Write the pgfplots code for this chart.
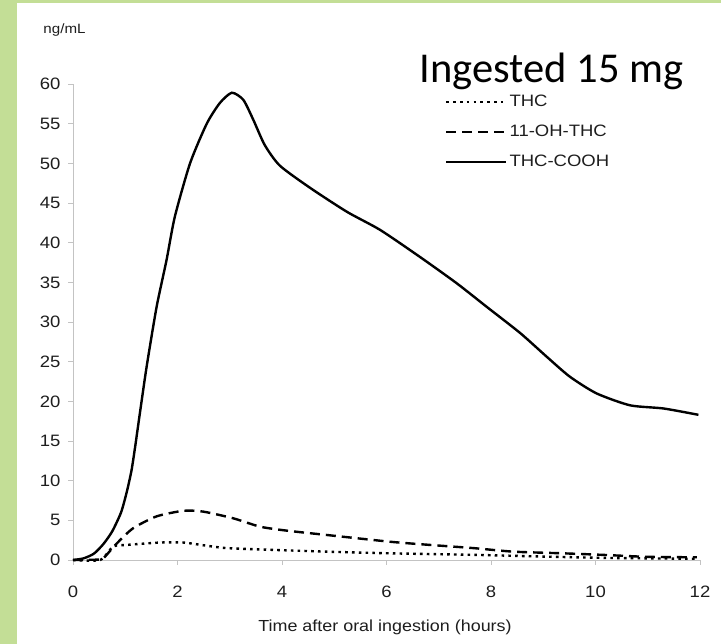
\documentclass[border=0pt]{standalone}
\usepackage{pgfplots}
\pgfplotsset{compat=1.18}
\usepackage{fontspec}
\setmainfont{Liberation Sans}[FakeStretch=1.12]
\newfontfamily\calibri{Carlito}
\definecolor{framegreen}{RGB}{195,222,150}
\definecolor{axisgray}{RGB}{195,195,195}
\definecolor{labelink}{RGB}{30,30,30}

% concentration (ng/mL) against time (h)
\pgfplotstableread{
t v
0.00 0.00
0.20 0.20
0.40 0.80
0.58 2.00
0.75 3.60
0.92 6.00
1.03 8.60
1.12 11.3
1.19 14.3
1.28 18.5
1.41 24.4
1.60 31.9
1.79 37.8
1.95 43.3
2.24 50.0
2.56 55.0
2.81 57.6
3.04 58.9
3.26 58.0
3.45 55.5
3.67 52.3
3.96 49.7
4.54 46.9
5.24 43.9
5.88 41.6
6.64 38.2
7.34 34.9
7.92 31.9
8.56 28.6
9.07 25.6
9.51 23.1
10.02 21.0
10.66 19.5
11.30 19.1
11.97 18.3
}\cooh

\pgfplotstableread{
t v
0.00 0.00
0.50 0.05
0.58 0.20
0.84 2.10
1.15 4.00
1.60 5.50
2.11 6.20
2.49 6.10
3.07 5.25
3.58 4.20
4.09 3.70
4.86 3.15
6.07 2.30
6.83 1.90
7.66 1.50
8.43 1.05
9.38 0.84
10.20 0.63
10.98 0.40
11.94 0.34
}\ohthc

\pgfplotstableread{
t v
0.00 0.00
0.52 0.00
0.77 1.70
1.03 1.90
1.67 2.20
2.11 2.20
2.56 1.80
2.94 1.50
3.90 1.26
4.86 1.05
6.07 0.84
7.79 0.63
9.07 0.42
10.34 0.25
11.94 0.15
}\thc

\begin{document}
\begin{tikzpicture}[x=1pt,y=1pt]
\fill[white] (0,0) rectangle (721,644);
\fill[framegreen] (0,0) rectangle (17,644);
\fill[framegreen] (0,641) rectangle (721,644);
\begin{axis}[
  at={(73pt,84pt)}, anchor=south west,
  scale only axis, width=627pt, height=476pt,
  xmin=0, xmax=12, ymin=0, ymax=60,
  axis x line=bottom, axis y line=left,
  axis line style={-, draw=axisgray, line width=0.9pt},
  xtick={0,2,...,12}, ytick={0,5,...,60},
  tick style={draw=axisgray, line width=0.9pt},
  tick align=outside,
  major tick length=5pt,
  tick label style={font=\fontsize{16.5}{18}\selectfont, text=labelink,
    /pgf/number format/assume math mode=true},
  xticklabel style={text height=12pt, text depth=0pt, yshift=-17pt},
  yticklabel style={xshift=-4pt},
  clip=false,
  legend cell align=left,
  legend image code/.code={\draw[#1] (0pt,0pt) -- (60pt,0pt);},
  legend style={at={(445pt-73pt,560pt-93pt)}, anchor=north west,
    draw=none, fill=none, inner sep=0pt, row sep=13pt,
    font=\fontsize{16.5}{18}\selectfont,
    nodes={inner sep=2pt, text=labelink}},
]
\addplot[black, line width=2.4pt, dash pattern=on 2.6pt off 4.2pt, smooth, tension=0.4] table[x=t,y=v] {\thc};
\addlegendentry{THC}
\addplot[black, line width=2.4pt, dash pattern=on 10pt off 6pt, smooth, tension=0.4] table[x=t,y=v] {\ohthc};
\addlegendentry{11-OH-THC}
\addplot[black, line width=2.4pt, smooth, tension=0.4] table[x=t,y=v] {\cooh};
\addlegendentry{THC-COOH}
\end{axis}
\node[font=\fontsize{13.5}{15}\selectfont, text=labelink] at (64.5,614) {ng/mL};
\node[font=\fontsize{16}{18}\selectfont, text=labelink] at (385,17) {Time after oral ingestion (hours)};
\node[font=\calibri\fontsize{42.5}{44}\selectfont, anchor=base] at (551.5,561) {Ingested 15 mg};
\end{tikzpicture}
\end{document}
